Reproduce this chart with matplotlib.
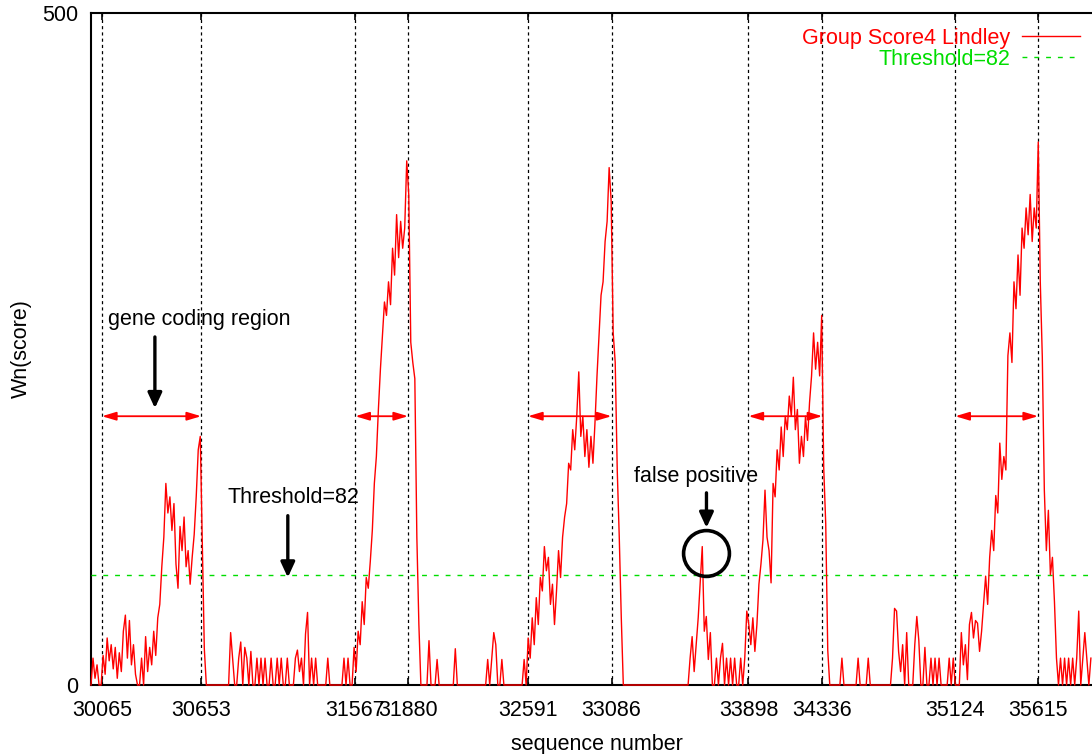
import numpy as np
import matplotlib
matplotlib.use("Agg")
import matplotlib.pyplot as plt

# ── Data ─────────────────────────────────────────────────────────────────
SEQ_START = 30000   # first sequence number of the sampled score
SEQ_STEP = 12       # spacing of the samples below

score_a = [0, 20, 5, 15, 0, 0, 22, 8, 35, 18, 30, 12, 28, 5, 24, 10, 40, 52, 20, 48,
           15, 30, 8, 0, 0, 20, 0, 36, 10, 28, 15, 40, 22, 50, 60, 88, 110, 150, 128, 140,
           115, 135, 90, 72, 118, 100, 125, 88, 100, 75]
score_b = [95, 112, 140, 175, 185, 108, 27, 0, 0, 0, 0, 0, 0, 0, 0, 0, 0, 0, 0, 39,
           20, 0, 0, 20, 32, 0, 28, 20, 0, 25, 0, 0, 20, 0, 20, 0, 20, 0, 0, 20,
           0, 0, 20, 0, 20, 0, 0, 20, 0, 0]
score_c = [0, 20, 26, 10, 20, 0, 38, 54, 0, 20, 0, 20, 0, 0, 0, 0, 0, 20, 0, 0,
           0, 0, 0, 0, 0, 20, 0, 20, 0, 0, 28, 10, 40, 30, 62, 45, 80, 72, 92, 115,
           150, 170, 205, 235, 260, 285, 275, 300, 283, 325]
score_d = [305, 350, 318, 345, 325, 340, 390, 365, 255, 240, 228, 110, 45, 0, 0, 0, 0, 33, 0, 0,
           0, 19, 0, 0, 0, 0, 0, 0, 0, 0, 27, 0, 0, 0, 0, 0, 0, 0, 0, 0,
           0, 0, 0, 0, 0, 0, 19, 0, 20, 39]
score_e = [30, 0, 0, 19, 0, 0, 0, 0, 0, 0, 0, 0, 0, 0, 19, 0, 35, 20, 50, 30,
           65, 45, 80, 70, 103, 85, 95, 60, 75, 45, 70, 100, 80, 110, 125, 135, 165, 160, 190, 175,
           200, 233, 185, 200, 170, 190, 162, 185, 165, 195]
score_f = [230, 260, 290, 300, 330, 345, 385, 360, 262, 240, 160, 110, 50, 0, 0, 0, 0, 0, 0, 0,
           0, 0, 0, 0, 0, 0, 0, 0, 0, 0, 0, 0, 0, 0, 0, 0, 0, 0, 0, 0,
           0, 0, 0, 0, 0, 0, 20, 36, 10, 30]
score_g = [50, 76, 103, 40, 51, 19, 39, 0, 0, 20, 0, 20, 31, 0, 20, 0, 20, 0, 20, 0,
           0, 20, 0, 20, 55, 45, 30, 50, 25, 45, 75, 90, 108, 145, 110, 100, 76, 150, 140, 175,
           160, 192, 170, 200, 190, 215, 200, 229, 190, 205]
score_h = [165, 185, 170, 200, 182, 210, 230, 262, 235, 255, 230, 275, 162, 120, 26, 0, 0, 0, 0, 0,
           0, 20, 0, 0, 0, 0, 0, 0, 0, 20, 0, 0, 0, 0, 20, 0, 0, 0, 0, 0,
           0, 0, 0, 0, 0, 0, 20, 57, 55, 25]
score_i = [10, 30, 0, 39, 0, 0, 0, 30, 51, 33, 0, 0, 28, 0, 0, 20, 0, 20, 0, 20,
           0, 0, 0, 0, 20, 0, 20, 0, 0, 0, 39, 15, 30, 4, 45, 54, 35, 48, 46, 25,
           40, 60, 81, 60, 95, 115, 100, 141, 128, 180]
score_j = [153, 170, 160, 245, 262, 240, 300, 280, 320, 290, 340, 325, 355, 335, 365, 330, 355, 340, 404, 300,
           244, 145, 100, 130, 82, 95, 62, 20, 0, 20, 0, 20, 0, 20, 0, 20, 0, 20, 55, 0,
           20, 39, 20, 0, 20]

THRESHOLD = 82
boundaries = [30065, 30653, 31567, 31880, 32591, 33086, 33898, 34336, 35124, 35615]
regions = [(30065, 30653), (31567, 31880), (32591, 33086), (33898, 34336), (35124, 35615)]
REGION_Y = 200

score = np.array(score_a + score_b + score_c + score_d + score_e +
                 score_f + score_g + score_h + score_i + score_j, dtype=float)
seq = SEQ_START + SEQ_STEP * np.arange(len(score))

plt.rcParams.update({
    "font.family": ["Liberation Sans", "DejaVu Sans"],
    "font.size": 15.5,
    "axes.linewidth": 1.5,
    "xtick.direction": "in",
    "ytick.direction": "in",
})

fig = plt.figure(figsize=(10.92, 7.54), dpi=100)
# right edge sits past the figure: the original plot is cropped there
ax = fig.add_axes([0.0833, 0.0915, 0.9268, 0.8912])

# gene boundaries
for b in boundaries:
    ax.axvline(b, color="k", lw=0.9, ls=(0, (2.5, 2.5)), zorder=2)

line, = ax.plot(seq, score, color="#ff0000", lw=1.0, zorder=4,
                label="Group Score4 Lindley", clip_on=False)
thr = ax.axhline(THRESHOLD, color="#00dd00", lw=1.0, ls=(0, (3.5, 5)), zorder=3,
                 label="Threshold=82")

# red double arrows spanning each coding region
for x0, x1 in regions:
    ax.annotate("", xy=(x1, REGION_Y), xytext=(x0, REGION_Y),
                arrowprops=dict(arrowstyle="<|-|>,head_length=0.6,head_width=0.18",
                                color="#ff0000", lw=1.3, mutation_scale=14,
                                shrinkA=0, shrinkB=0), zorder=5)

black_arrow = dict(arrowstyle="-|>,head_length=0.65,head_width=0.3", color="k",
                   lw=2.4, mutation_scale=14, shrinkA=0, shrinkB=0)

ax.text(30101, 268, "gene coding region", va="baseline", ha="left")
ax.annotate("", xy=(30379, 206), xytext=(30379, 259), arrowprops=black_arrow)

ax.text(30811, 135.5, "Threshold=82", va="baseline", ha="left")
ax.annotate("", xy=(31167, 80), xytext=(31167, 126), arrowprops=black_arrow)

ax.text(33222, 151, "false positive", va="baseline", ha="left")
ax.annotate("", xy=(33649, 117), xytext=(33649, 143), arrowprops=black_arrow)
ax.plot([33649], [98], "o", ms=33, mfc="none", mec="k", mew=2.6, zorder=6)

ax.set_xlim(30000, 36000)
ax.set_ylim(0, 500)
ax.set_xticks(boundaries)
ax.set_xticklabels([str(b) for b in boundaries])
ax.set_yticks([0, 500])
ax.tick_params(axis="x", top=True, length=5, width=1.2, pad=11)
ax.tick_params(axis="y", right=True, length=5, width=1.2, pad=9)

ax.set_xlabel("sequence number", labelpad=9)
ax.set_ylabel("Wn(score)")
ax.yaxis.set_label_coords(-0.058, 0.5)

leg = ax.legend(handles=[line, thr], loc="upper right", frameon=False,
                markerfirst=False, labelcolor="linecolor",
                handlelength=2.7, handletextpad=0.55, borderpad=0,
                labelspacing=0.0, borderaxespad=0,
                bbox_to_anchor=(1080 / 1092, 1 - 28 / 754),
                bbox_transform=fig.transFigure)

fig.savefig("out.png", dpi=100)
